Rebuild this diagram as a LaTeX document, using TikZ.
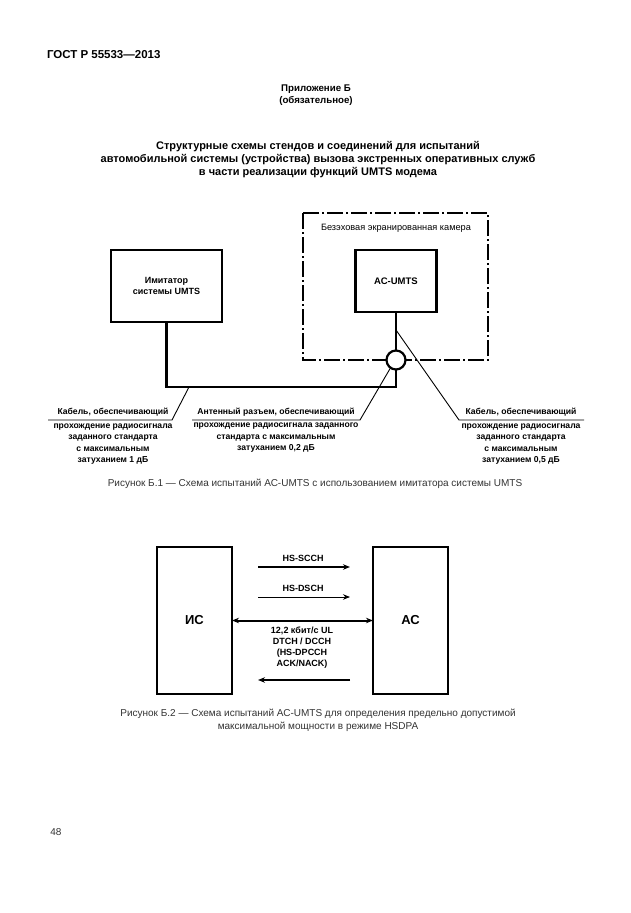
\documentclass[tikz,border=0pt]{standalone}
\usepackage{fontspec}
\setmainfont{Liberation Sans}
\usetikzlibrary{arrows.meta,calc}
\begin{document}
\begin{tikzpicture}[x=1pt,y=-1pt,
  every node/.style={inner sep=0pt,outer sep=0pt},
  boxn/.style={draw,line width=2.8pt,align=center,font=\fontsize{9}{10.5}\selectfont\bfseries},
  cable/.style={line width=2.4pt},
  ptr/.style={line width=0.9pt},
  lbl/.style={align=center,font=\fontsize{8.6}{11.5}\selectfont\bfseries},
  chamber/.style={line width=1.2pt,dash pattern=on 16pt off 3pt on 2pt off 3pt},
  arr/.style={-{Stealth[length=7pt,width=5.5pt]}},
  captxt/.style={align=center,text=black!80,font=\fontsize{10}{13}\selectfont}]
\useasboundingbox (0,0) rectangle (630,913);
% header
\node[anchor=west,font=\fontsize{11.5}{13}\selectfont\bfseries] (hdr) at (47,55) {ГОСТ Р 55533—2013};
\node[align=center,font=\fontsize{9.7}{12}\selectfont\bfseries] (app) at (316,95) {Приложение Б\\(обязательное)};
\node[align=center,font=\fontsize{11}{13}\selectfont\bfseries] (ttl) at (318,160) {Структурные схемы стендов и соединений для испытаний\\автомобильной системы (устройства) вызова экстренных оперативных служб\\в части реализации функций UMTS модема};
% Figure B.1
\draw[chamber] (303,213) rectangle (488,360);
\node[font=\fontsize{9.2}{10}\selectfont] (chl) at (396,228) {Безэховая экранированная камера};
\node[boxn,minimum width=111pt,minimum height=72pt] (imit) at (166.5,286) {Имитатор\\системы UMTS};
\node[boxn,minimum width=81pt,minimum height=62pt,font=\fontsize{9.5}{11}\selectfont\bfseries] (ac) at (396,281) {АС-UMTS};
\node[draw,circle,line width=2.2pt,fill=white,minimum size=19pt] (j) at (396,360) {};
\coordinate (c1) at (396,387);
\draw[cable] (imit.south) |- (c1) -- (j.south);
\draw[cable] (ac.south) -- (j.north);
% labels
\node[lbl] (la1) at (113,412) {Кабель, обеспечивающий};
\node[lbl] (la2) at (113,444) {прохождение радиосигнала\\заданного стандарта\\с максимальным\\затуханием 1 дБ};
\coordinate (ua0) at (48,420);
\coordinate (ua1) at (172,420);
\coordinate (pa) at (189,387);
\draw[ptr] (ua0) -- (ua1) -- (pa);
\node[lbl] (lb1) at (276,412) {Антенный разъем, обеспечивающий};
\node[lbl] (lb2) at (276,438) {прохождение радиосигнала заданного\\стандарта с максимальным\\затуханием 0,2 дБ};
\coordinate (ub0) at (192,420);
\coordinate (ub1) at (360,420);
\draw[ptr] (ub0) -- (ub1) -- (j.-125);
\node[lbl] (lc1) at (521,412) {Кабель, обеспечивающий};
\node[lbl] (lc2) at (521,444) {прохождение радиосигнала\\заданного стандарта\\с максимальным\\затуханием 0,5 дБ};
\coordinate (uc0) at (584,420);
\coordinate (uc1) at (459,420);
\coordinate (pc) at (396,330);
\draw[ptr] (uc0) -- (uc1) -- (pc);
\node[captxt] (cap1) at (315,484) {Рисунок Б.1 — Схема испытаний АС-UMTS с использованием имитатора системы UMTS};
% Figure B.2
\node[boxn,minimum width=75pt,minimum height=147pt,font=\fontsize{13}{14}\selectfont\bfseries] (is) at (194.5,620.5) {ИС};
\node[boxn,minimum width=75pt,minimum height=147pt,font=\fontsize{13}{14}\selectfont\bfseries] (as) at (410.5,620.5) {АС};
\coordinate (a1s) at (258,567); \coordinate (a1e) at (350,567);
\coordinate (a2s) at (258,597); \coordinate (a2e) at (350,597);
\coordinate (a4s) at (350,680); \coordinate (a4e) at (258,680);
\draw[arr,line width=2pt] (a1s) -- (a1e);
\draw[arr,line width=0.9pt] (a2s) -- (a2e);
\draw[{Stealth[length=7pt,width=5.5pt]}-{Stealth[length=7pt,width=5.5pt]},line width=2pt] (is.east) -- (as.west);
\draw[arr,line width=1.2pt] (a4s) -- (a4e);
\node[lbl,font=\fontsize{9}{11}\selectfont\bfseries] (t1) at (303,558) {HS-SCCH};
\node[lbl,font=\fontsize{9}{11}\selectfont\bfseries] (t2) at (303,588) {HS-DSCH};
\node[lbl,font=\fontsize{9}{11}\selectfont\bfseries] (t3) at (302,648) {12,2 кбит/с UL\\DTCH / DCCH\\(HS-DPCCH\\ACK/NACK)};
\node[captxt] (cap2) at (318,720.5) {Рисунок Б.2 — Схема испытаний АС-UMTS для определения предельно допустимой\\максимальной мощности в режиме HSDPA};
\node[font=\fontsize{10}{11}\selectfont,text=black!80] (pg) at (56,832) {48};
\end{tikzpicture}
\end{document}
